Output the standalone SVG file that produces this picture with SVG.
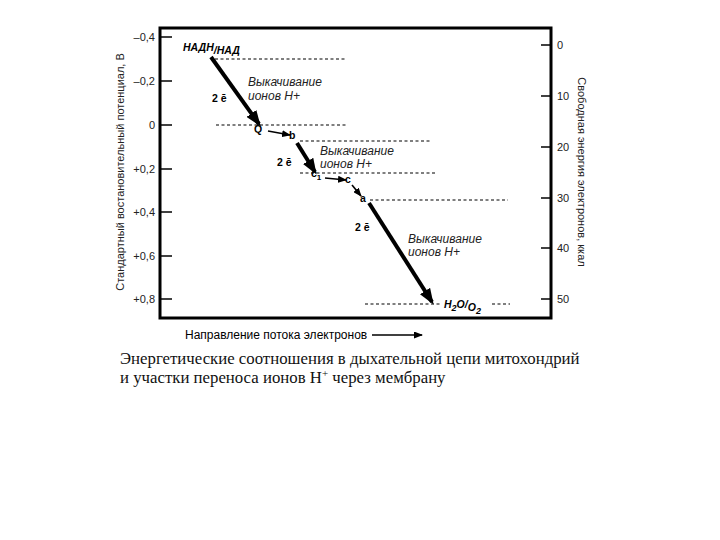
<svg xmlns="http://www.w3.org/2000/svg" width="720" height="540" viewBox="0 0 720 540">
<style>
.ax{font-family:"Liberation Sans",Arial,sans-serif;font-size:11px;fill:#222}
.lbl{font-family:"Liberation Sans",Arial,sans-serif;font-size:12px;fill:#000}
.it{font-family:"Liberation Sans",Arial,sans-serif;font-size:12px;font-style:italic;fill:#222}
.bi{font-family:"Liberation Sans",Arial,sans-serif;font-size:10.5px;font-style:italic;font-weight:bold;fill:#000}
.b{font-family:"Liberation Sans",Arial,sans-serif;font-size:10.5px;font-weight:bold;fill:#000}
.cap{font-family:"Liberation Serif","Times New Roman",serif;font-size:16.8px;fill:#111}
.dash{stroke:#000;stroke-width:1.2;stroke-dasharray:3,2.5;fill:none}
.tick{stroke:#000;stroke-width:1.5}
.thick{stroke:#000;stroke-width:4;fill:none}
.thin{stroke:#000;stroke-width:1.6;fill:none}
</style>
<defs>
<marker id="bigHead" markerUnits="userSpaceOnUse" markerWidth="16" markerHeight="12" refX="13" refY="6" orient="auto">
<path d="M0,0 L16,6 L0,12 z" fill="#000"/>
</marker>
<marker id="smallHead" markerUnits="userSpaceOnUse" markerWidth="9" markerHeight="7" refX="8" refY="3.5" orient="auto">
<path d="M0,0 L9,3.5 L0,7 z" fill="#000"/>
</marker>
</defs>

<g id="frame">
<rect x="160" y="28" width="391" height="290" fill="none" stroke="#000" stroke-width="3"/>
</g>

<g id="left-axis">
<line class="tick" x1="160" y1="37" x2="172" y2="37"/>
<line class="tick" x1="160" y1="81" x2="172" y2="81"/>
<line class="tick" x1="160" y1="125" x2="172" y2="125"/>
<line class="tick" x1="160" y1="169" x2="172" y2="169"/>
<line class="tick" x1="160" y1="212" x2="172" y2="212"/>
<line class="tick" x1="160" y1="256" x2="172" y2="256"/>
<line class="tick" x1="160" y1="299" x2="172" y2="299"/>
<text class="ax" x="155" y="41" text-anchor="end">–0,4</text>
<text class="ax" x="155" y="85" text-anchor="end">–0,2</text>
<text class="ax" x="155" y="129" text-anchor="end">0</text>
<text class="ax" x="155" y="173" text-anchor="end">+0,2</text>
<text class="ax" x="155" y="216" text-anchor="end">+0,4</text>
<text class="ax" x="155" y="260" text-anchor="end">+0,6</text>
<text class="ax" x="155" y="303" text-anchor="end">+0,8</text>
<text class="ax" transform="translate(124,172) rotate(-90)" text-anchor="middle" font-size="12.6">Стандартный востановительный потенциал, В</text>
</g>

<g id="right-axis">
<line class="tick" x1="541" y1="45" x2="551" y2="45"/>
<line class="tick" x1="541" y1="96" x2="551" y2="96"/>
<line class="tick" x1="541" y1="147" x2="551" y2="147"/>
<line class="tick" x1="541" y1="198" x2="551" y2="198"/>
<line class="tick" x1="541" y1="248" x2="551" y2="248"/>
<line class="tick" x1="541" y1="299" x2="551" y2="299"/>
<text class="ax" x="557" y="49">0</text>
<text class="ax" x="557" y="100">10</text>
<text class="ax" x="557" y="151">20</text>
<text class="ax" x="557" y="202">30</text>
<text class="ax" x="557" y="252">40</text>
<text class="ax" x="557" y="303">50</text>
<text class="ax" transform="translate(578,172) rotate(90)" text-anchor="middle" font-size="12.3">Свободная энергия электронов, ккал</text>
</g>

<g id="levels">
<line class="dash" x1="215" y1="59" x2="347" y2="59"/>
<line class="dash" x1="216" y1="125" x2="347" y2="125"/>
<line class="dash" x1="300" y1="141" x2="432" y2="141"/>
<line class="dash" x1="300" y1="173" x2="435" y2="173"/>
<line class="dash" x1="370" y1="200" x2="508" y2="200"/>
<line class="dash" x1="365" y1="304" x2="442" y2="304"/>
<line class="dash" x1="492" y1="304" x2="510" y2="304"/>
</g>

<g id="connectors">
<line class="thick" x1="211" y1="57" x2="259" y2="124" marker-end="url(#bigHead)"/>
<line class="thin" x1="268" y1="131" x2="290" y2="135" marker-end="url(#smallHead)"/>
<line class="thick" x1="297" y1="143" x2="315" y2="172" marker-end="url(#bigHead)"/>
<line class="thin" x1="325" y1="178" x2="346" y2="180" marker-end="url(#smallHead)"/>
<line class="thin" x1="352" y1="185" x2="361" y2="196" marker-end="url(#smallHead)"/>
<line class="thick" x1="369" y1="203" x2="432" y2="302" marker-end="url(#bigHead)"/>
</g>

<g id="node-nadh">
<text class="bi" x="183" y="51">НАДН<tspan dy="3">/НАД</tspan></text>
</g>
<g id="node-Q"><text class="b" x="254" y="133">Q</text></g>
<g id="node-b"><text class="b" x="289" y="139">b</text></g>
<g id="node-c1"><text class="b" x="311" y="177">c<tspan font-size="8" dy="3">1</tspan></text></g>
<g id="node-c"><text class="b" x="345" y="183">c</text></g>
<g id="node-a"><text class="b" x="360" y="202">a</text></g>
<g id="node-h2o">
<text class="bi" x="444" y="308" font-size="12">H<tspan font-size="9" dy="3">2</tspan><tspan dy="-3">O/</tspan><tspan dy="3">O</tspan><tspan font-size="9" dy="3">2</tspan></text>
</g>

<g id="labels">
<text class="b" x="212" y="102">2 ē</text>
<text class="it" x="248" y="86">Выкачивание</text>
<text class="it" x="248" y="100">ионов Н+</text>
<text class="b" x="277" y="166">2 ē</text>
<text class="it" x="320" y="155">Выкачивание</text>
<text class="it" x="320" y="168">ионов Н+</text>
<text class="b" x="355" y="231">2 ē</text>
<text class="it" x="408" y="243">Выкачивание</text>
<text class="it" x="408" y="256">ионов Н+</text>
</g>

<g id="flow">
<text class="lbl" x="185" y="339">Направление потока электронов</text>
<line class="thin" x1="372" y1="335" x2="422" y2="335" stroke-width="1.8" marker-end="url(#smallHead)"/>
</g>

<g id="caption">
<text class="cap" x="120" y="364">Энергетические соотношения в дыхательной цепи митохондрий</text>
<text class="cap" x="120" y="383">и участки переноса ионов Н<tspan font-size="11" dy="-6">+</tspan><tspan dy="6"> через мембрану</tspan></text>
</g>
</svg>
